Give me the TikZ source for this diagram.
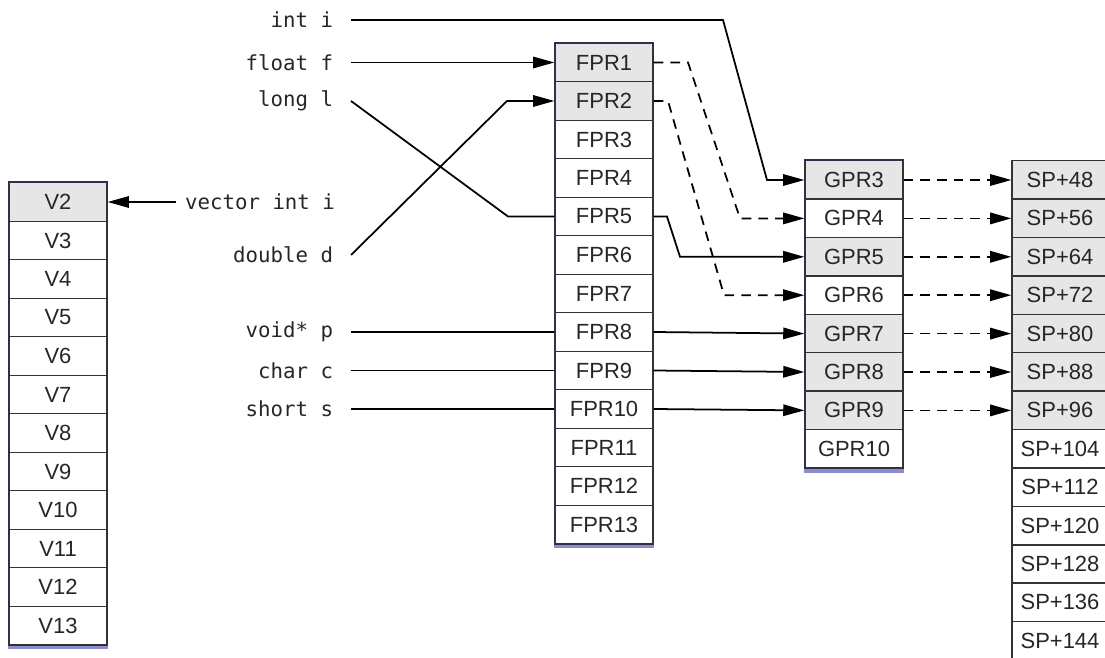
\documentclass[tikz,border=0pt]{standalone}
\usepackage{fontspec}
\setmainfont{Liberation Sans}
\setmonofont{DejaVu Sans Mono}
\usetikzlibrary{arrows.meta}
\definecolor{regfill}{HTML}{E6E6E6}
\definecolor{colframe}{HTML}{30304C}
\definecolor{colshade}{HTML}{8C8CC8}
\begin{document}
\begin{tikzpicture}[x=0.02cm, y=-0.02cm, >={Triangle[length=12pt,width=6.5pt]},
    cell/.style={draw=black!80, line width=0.8pt, minimum width=1.96cm,
      minimum height=0.77cm, inner sep=0pt, text=black!85,
      font=\fontsize{12.5}{14}\selectfont},
    used/.style={cell, fill=regfill},
    arg/.style={font=\ttfamily\fontsize{11.8}{14}\selectfont, inner xsep=10pt,
      anchor=east, text=black!85},
    wire/.style={line width=1pt},
    spill/.style={wire, dash pattern=on 5.5pt off 4pt},
    frame/.style={draw=colframe, line width=0.9pt},
    shade/.style={draw=colshade, line width=2pt}]

  \useasboundingbox (0,0) rectangle (1105,658);

  % vector registers
  \foreach \i/\s in {2/used,3/cell,4/cell,5/cell,6/cell,7/cell,8/cell,9/cell,
                     10/cell,11/cell,12/cell,13/cell}
    \node[\s] (v\i) at (58,{202+(\i-2)*38.5}) {V\i};
  \draw[frame] (v2.north west) rectangle (v13.south east);
  \draw[shade] ([yshift=-1.3pt]v13.south west) -- ([yshift=-1.3pt]v13.south east);

  % floating point registers
  \foreach \i/\s in {1/used,2/used,3/cell,4/cell,5/cell,6/cell,7/cell,8/cell,
                     9/cell,10/cell,11/cell,12/cell,13/cell}
    \node[\s] (fpr\i) at (604,{62.5+(\i-1)*38.5}) {FPR\i};
  \draw[frame] (fpr1.north west) rectangle (fpr13.south east);
  \draw[shade] ([yshift=-1.3pt]fpr13.south west) -- ([yshift=-1.3pt]fpr13.south east);

  % general purpose registers
  \foreach \i/\s in {3/used,4/cell,5/used,6/cell,7/used,8/used,9/used,10/cell}
    \node[\s] (gpr\i) at (854,{180+(\i-3)*38.4}) {GPR\i};
  \draw[frame] (gpr3.north west) rectangle (gpr10.south east);
  \draw[shade] ([yshift=-1.3pt]gpr10.south west) -- ([yshift=-1.3pt]gpr10.south east);

  % stack slots
  \foreach \k/\s [count=\n from 0] in {48/used,56/used,64/used,72/used,80/used,
                     88/used,96/used,104/cell,112/cell,120/cell,128/cell,
                     136/cell,144/cell}
    \node[\s, minimum width=1.92cm] (sp\k) at (1060,{180+\n*38.4}) {SP+\k};

  % arguments
  \node[arg] (inti) at (351,20) {int i};
  \node[arg] (floatf) at (351,62.5) {float f};
  \node[arg] (longl) at (351,101) {long l};
  \node[arg, anchor=west, inner xsep=5pt] (vecint) at (176,202) {vector int i};
  \node[arg] (doubled) at (351,255) {double d};
  \node[arg] (voidp) at (351,332) {void* p};
  \node[arg] (charc) at (351,370.5) {char c};
  \node[arg] (shorts) at (351,409) {short s};

  % argument -> register
  \draw[wire,->] (inti.east) -- (723,20) -- (767,180) -- (gpr3.west);
  \draw[wire,->] (floatf.east) -- (fpr1.west);
  \draw[wire] (longl.east) -- (508,216.5) -- (fpr5.west);
  \draw[wire,->] (doubled.east) -- (507,101) -- (fpr2.west);
  \draw[wire,->] (vecint.west) -- (v2.east);
  \foreach \a/\r in {voidp/8,charc/9,shorts/10}
    \draw[wire] (\a.east) -- (fpr\r.west);

  % fpr -> gpr
  \foreach \r/\g in {8/7,9/8,10/9}
    \draw[wire,->] (fpr\r.east) -- (gpr\g.west);
  \draw[spill,->] (fpr1.east) -- (688,62.5) -- (740,218.4) -- (gpr4.west);
  \draw[spill,->] (fpr2.east) -- (668,101) -- (724,295.2) -- (gpr6.west);
  \draw[wire,->] (fpr5.east) -- (667,216.5) -- (680,256.8) -- (gpr5.west);

  % gpr -> stack
  \foreach \i/\k in {3/48,4/56,5/64,6/72,7/80,8/88,9/96}
    \draw[spill,->] (gpr\i.east) -- (sp\k.west);
\end{tikzpicture}
\end{document}
